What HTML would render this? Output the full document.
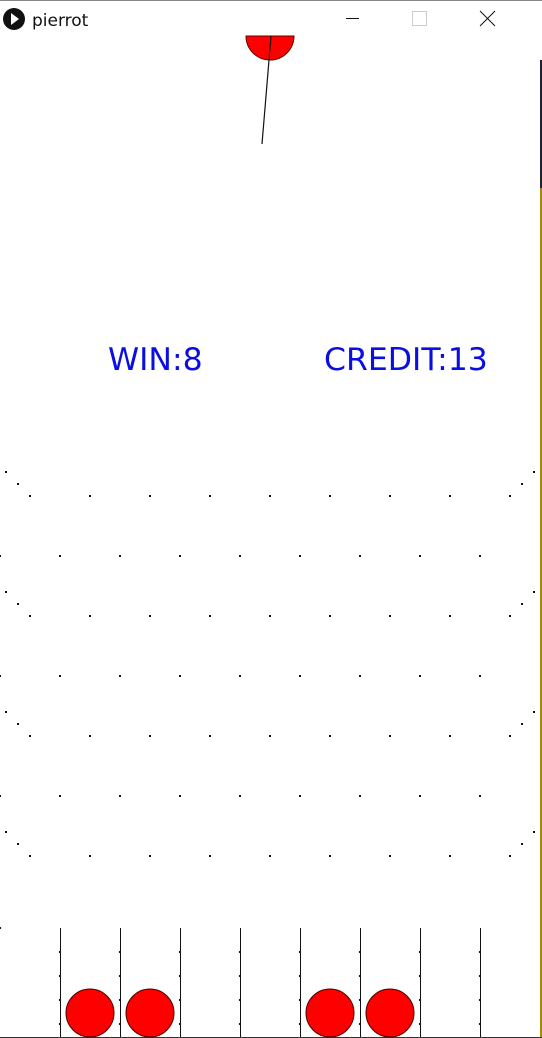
<!DOCTYPE html>
<html><head><meta charset="utf-8"><style>
html,body{margin:0;padding:0;background:#fff;width:542px;height:1038px;overflow:hidden}
svg{display:block}
</style></head><body>
<svg width="542" height="1038" viewBox="0 0 542 1038" xmlns="http://www.w3.org/2000/svg">
<rect x="0" y="0" width="542" height="1038" fill="#fff"/>
<line x1="0" y1="0.5" x2="542" y2="0.5" stroke="#888"/>
<g>
<circle cx="14" cy="19" r="11" fill="#111"/>
<polygon points="11,13 11,25 19,19" fill="#fff"/>
<text x="32" y="26" font-family="'DejaVu Sans','Liberation Sans',sans-serif" font-size="17" fill="#111">pierrot</text>
<line x1="346" y1="18.5" x2="359" y2="18.5" stroke="#111"/>
<rect x="412.5" y="11.5" width="14" height="14" fill="none" stroke="#ccc"/>
<g stroke="#111"><line x1="480" y1="11" x2="495" y2="26"/><line x1="495" y1="11" x2="480" y2="26"/></g>
</g>
<line x1="541" y1="60" x2="541" y2="188" stroke="#1c2333" stroke-width="2"/>
<line x1="541" y1="188" x2="541" y2="1038" stroke="#a8870a" stroke-width="2"/>
<g>
<path d="M246,36 A24,24 0 0 0 294,36 Z" fill="#ff0000" stroke="#600" stroke-width="1"/>
<line x1="271" y1="36" x2="262" y2="144" stroke="#111" stroke-width="1.2"/>
</g>
<text x="108" y="370" font-family="'DejaVu Sans','Liberation Sans',sans-serif" font-size="31.5" fill="#0a0ee0">WIN:8</text>
<text x="324" y="370" font-family="'DejaVu Sans','Liberation Sans',sans-serif" font-size="31.5" fill="#0a0ee0">CREDIT:13</text>
<g id="pins"></g>
<g id="slots"></g>
<g id="balls"></g>
</svg>
<script>
const rowsA=[496,616,736,856];
const rowsB=[556,676,796];
const slotLines=[60,120,180,240,300,360,420,480];
const ballSlots=[90,150,330,390];
const NS="http://www.w3.org/2000/svg";
const pins=document.getElementById('pins');
function dot(x,y){const r=document.createElementNS(NS,'rect');r.setAttribute('x',x-1);r.setAttribute('y',y-1);r.setAttribute('width',2);r.setAttribute('height',2);r.setAttribute('fill','#111');


pins.appendChild(r);}
rowsA.forEach(y=>{for(let x=30;x<=510;x+=60)dot(x,y);dot(6,y-24);dot(18,y-12);dot(522,y-12);dot(534,y-24);});
rowsB.forEach(y=>{for(let x=0;x<=480;x+=60)dot(x,y);});
const slots=document.getElementById('slots');
dot(0,928);
slotLines.forEach(x=>{const l=document.createElementNS(NS,'line');l.setAttribute('x1',x+0.5);l.setAttribute('x2',x+0.5);l.setAttribute('y1',928);l.setAttribute('y2',1038);l.setAttribute('stroke','#111');


slots.appendChild(l);
for(let y=952;y<1038;y+=24){const t=document.createElementNS(NS,'rect');t.setAttribute('x',x-1);t.setAttribute('y',y-1);t.setAttribute('width',2);t.setAttribute('height',2);t.setAttribute('fill','#111');


slots.appendChild(t);}});
const bl=document.createElementNS(NS,'line');bl.setAttribute('x1',0);bl.setAttribute('x2',542);bl.setAttribute('y1',1037.5);bl.setAttribute('y2',1037.5);bl.setAttribute('stroke','#333');


slots.appendChild(bl);
const balls=document.getElementById('balls');
ballSlots.forEach(x=>{const c=document.createElementNS(NS,'circle');c.setAttribute('cx',x);c.setAttribute('cy',1013);c.setAttribute('r',24);c.setAttribute('fill','#ff0000');c.setAttribute('stroke','#400');


balls.appendChild(c);});
</script>
</body></html>
